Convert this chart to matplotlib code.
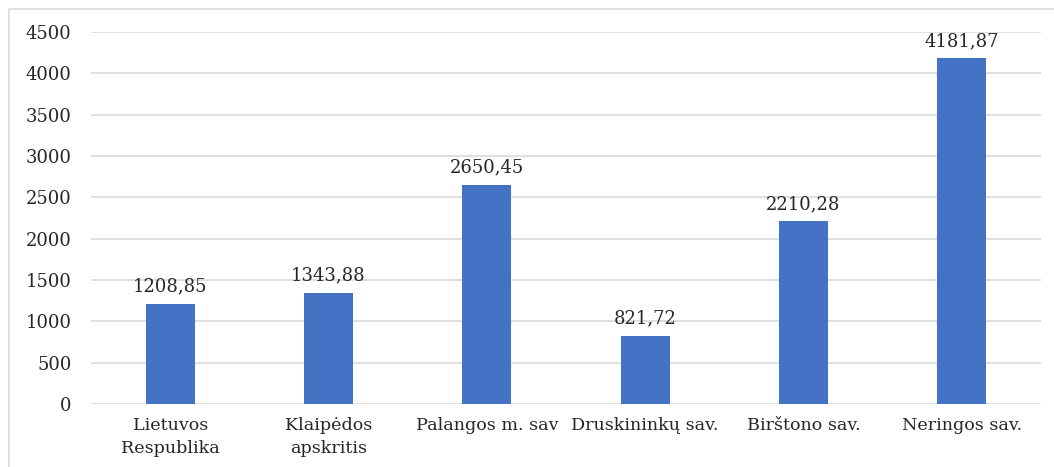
import matplotlib
matplotlib.use("Agg")
import matplotlib.pyplot as plt
from matplotlib.patches import Rectangle

categories = ["Lietuvos\nRespublika", "Klaipėdos\napskritis", "Palangos m. sav",
              "Druskininkų sav.", "Birštono sav.", "Neringos sav."]
values = [1208.85, 1343.88, 2650.45, 821.72, 2210.28, 4181.87]
yticks = [0, 500, 1000, 1500, 2000, 2500, 3000, 3500, 4000, 4500]

plt.rcParams['font.family'] = ['DejaVu Serif']

fig = plt.figure(figsize=(10.54, 4.67), dpi=100)
fig.patches.append(Rectangle((9/1054, -0.05), 1.2, 1.05 - 9/467,
                             transform=fig.transFigure, fill=False,
                             edgecolor='#D9D9D9', linewidth=1.2))
ax = fig.add_axes([91/1054, 1-404/467, (1041-91)/1054, (404-32)/467])

x = range(len(categories))
bars = ax.bar(x, values, width=0.31, color='#4472C4', zorder=3)
for xi, v in zip(x, values):
    ax.annotate(f"{v:.2f}".replace('.', ','), (xi, v), xytext=(0, 6),
                textcoords='offset points', ha='center', va='bottom',
                fontsize=13, color='#262626')

ax.set_xlim(-0.5, len(categories) - 0.5)
ax.set_ylim(0, 4500)
ax.set_yticks(yticks)
ax.set_yticklabels([str(t) for t in yticks], fontsize=13, color='#262626')
ax.set_xticks(list(x))
ax.set_xticklabels(categories, fontsize=12.6, color='#262626', linespacing=1.5)
ax.tick_params(axis='both', length=0)
ax.tick_params(axis='y', pad=14)
ax.tick_params(axis='x', pad=9)
ax.grid(axis='y', color='#D9D9D9', linewidth=1.2, zorder=0)
for s in ax.spines.values():
    s.set_visible(False)

fig.savefig("out.png", dpi=100)
